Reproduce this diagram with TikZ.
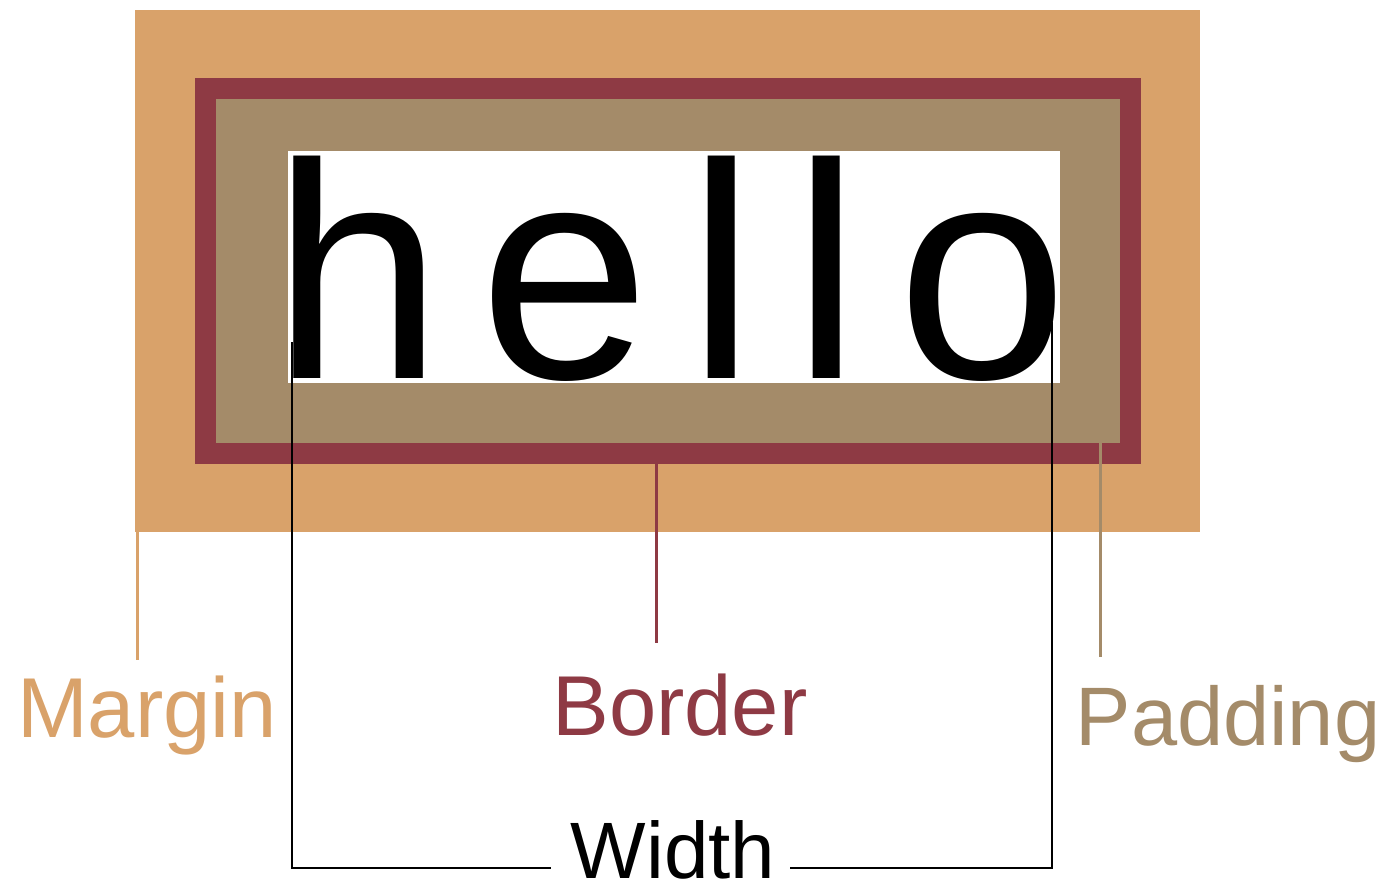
\documentclass[tikz,border=0pt]{standalone}
\usepackage{fontspec}
\setmainfont{Liberation Sans}
\definecolor{margincol}{HTML}{D9A26A}
\definecolor{bordercol}{HTML}{8E3A44}
\definecolor{paddingcol}{HTML}{A48B69}
\begin{document}
\begin{tikzpicture}[x=1pt,y=-1pt,
  label/.style={inner sep=0pt,anchor=base,font=\fontsize{85}{85}\selectfont},
  leader/.style={line width=3pt},
  bracket/.style={line width=2.8pt,black}]
\useasboundingbox (0,0) rectangle (1386,886);
% boxes
\fill[margincol] (135,10) rectangle (1200,532);
\fill[bordercol] (195,78) rectangle (1141,464);
\fill[paddingcol] (216,99) rectangle (1120,443);
\fill[white] (288,151) rectangle (1060,383);
\node[inner sep=0pt,anchor=base west,font=\fontsize{307}{307}\selectfont\addfontfeature{LetterSpace=12}] (hello) at (272,378) {hello};
% labels
\node[label,text=margincol] (margin) at (147,737) {Margin};
\node[label,text=bordercol] (border) at (680,735) {Border};
\node[label,text=paddingcol,font=\fontsize{83}{83}\selectfont] (padding) at (1228,745) {Padding};
\node[label,font=\fontsize{80}{80}\selectfont] (width) at (673,878) {Width};
% leader endpoints
\coordinate (mtop) at (137,532);
\coordinate (mbot) at (137,660);
\coordinate (btop) at (656,464);
\coordinate (bbot) at (656,643);
\coordinate (ptop) at (1100,443);
\coordinate (pbot) at (1100,657);
\draw[leader,margincol] (mtop) -- (mbot);
\draw[leader,bordercol] (btop) -- (bbot);
\draw[leader,paddingcol] (ptop) -- (pbot);
% width bracket
\coordinate (wl) at (292,342);
\coordinate (wr) at (1052,322);
\coordinate (wlend) at (551,868);
\coordinate (wrend) at (790,868);
\draw[bracket] (wl) -- (292,868) -- (wlend);
\draw[bracket] (wr) -- (1052,868) -- (wrend);
\end{tikzpicture}
\end{document}
